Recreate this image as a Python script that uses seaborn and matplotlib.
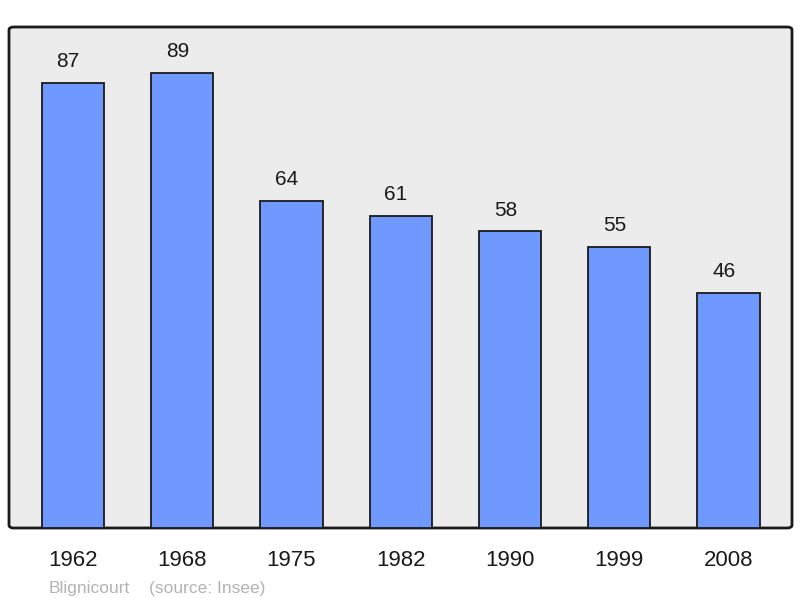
import pandas as pd
import seaborn as sns
import matplotlib.pyplot as plt
from matplotlib.patches import FancyBboxPatch

# Population data
years = ["1962", "1968", "1975", "1982", "1990", "1999", "2008"]
population = [87, 89, 64, 61, 58, 55, 46]
town = "Blignicourt"
source = "(source: Insee)"

df = pd.DataFrame({"year": years, "pop": population})

sns.set_theme(style="white")
plt.rcParams["font.family"] = ["Liberation Sans", "DejaVu Sans"]

fig = plt.figure(figsize=(8, 5.98), dpi=100)
ax = fig.add_axes([9 / 800, 1 - 528 / 598, 783 / 800, 501 / 598])
ax.set_facecolor("none")

# rounded background frame
frame = FancyBboxPatch((0, 0), 1, 1, boxstyle="round,pad=0,rounding_size=0.006",
                       transform=ax.transAxes, facecolor="#ececec",
                       edgecolor="#1a1a1a", linewidth=2, zorder=0, clip_on=False)
ax.add_patch(frame)

sns.barplot(data=df, x="year", y="pop", color="#7099ff", saturation=1,
            width=0.57, edgecolor="#1a1a1a", linewidth=1.3, ax=ax, zorder=2)

# value labels sit slightly left of the bar centres, like the original
for i, v in enumerate(population):
    ax.text(i - 0.043, v + 2.3, str(v), ha="center", va="bottom", fontsize=15,
            color="#1a1a1a")

ax.set_xlim(-0.585, 6.58)
ax.set_ylim(0, 98)
ax.set_yticks([])
ax.set_xlabel("")
ax.set_ylabel("")
for s in ax.spines.values():
    s.set_visible(False)
ax.tick_params(axis="x", length=0, pad=16, labelsize=16, labelcolor="#1a1a1a")

fig.text(49 / 800, 1 - 588 / 598, town, fontsize=12.5, color="#b3b3b3",
         va="center", ha="left")
fig.text(149 / 800, 1 - 588 / 598, source, fontsize=12.5, color="#b3b3b3",
         va="center", ha="left")

fig.savefig("out.png", dpi=100)
